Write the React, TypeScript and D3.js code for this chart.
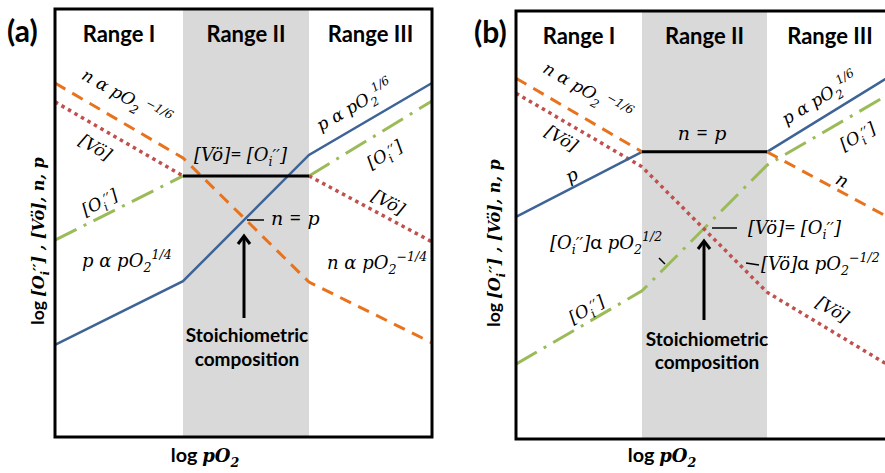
import React from 'react';
import * as d3 from 'd3';

// ---------- data ----------
const xBreaks = [0, 1, 2, 3]; // log pO2 positions: start of Range I, I|II, II|III, end of Range III
const rangeLabels = ['Range I', 'Range II', 'Range III'];

// Panel (a): log concentrations (arbitrary 0–100 units) at xBreaks
const aElectrons = [82.7, 65.2, 36.2, 22.0];
const aVacancies = [78.3, 61.0, 61.0, 45.6];
const aInterstitials = [46.0, 61.0, 61.0, 78.5];
const aHoles = [21.5, 36.4, 65.9, 82.7];
const aEqualLevel = 61.0; // [Vö] = [Oi''] in Range II

// Panel (b)
const bElectrons = [84.3, 67.1, 67.1, 51.2];
const bVacancies = [80.8, 63.6, 34.3, 16.6];
const bInterstitials = [17.5, 34.6, 64.0, 81.1];
const bHoles = [51.9, 67.1, 67.1, 85.2];
const bEqualLevel = 67.1; // n = p in Range II

// ---------- styles ----------
const SANS = "Lato, 'Open Sans', sans-serif";
const MATH = "'DejaVu Serif', 'Liberation Serif', serif";
const C = {
  blue: '#3E6497',
  orange: '#E8731C',
  red: '#C0504D',
  green: '#9BBB59',
  gray: '#D9D9D9',
};

type Seg = { t: string; dy: number; fs: number; up: boolean };
function parseRich(s: string, fs: number): Seg[] {
  const out: Seg[] = [];
  const re = /([_^~'])\{([^}]*)\}/g;
  let last = 0;
  let cur = 0;
  let m: RegExpExecArray | null;
  const push = (t: string, shift: number, size: number, up: boolean) => {
    out.push({ t, dy: shift - cur, fs: size, up });
    cur = shift;
  };
  while ((m = re.exec(s))) {
    if (m.index > last) push(s.slice(last, m.index), 0, fs, false);
    if (m[1] === '_') push(m[2], fs * 0.3, fs * 0.7, false);
    else if (m[1] === '^') push(m[2], -fs * 0.45, fs * 0.7, false);
    else if (m[1] === "'") push(m[2], -fs * 0.02, fs * 0.9, false);
    else push(m[2], 0, fs * 1.1, true);
    last = re.lastIndex;
  }
  if (last < s.length) push(s.slice(last), 0, fs, false);
  return out;
}

function Rich({ x, y, s, fs = 18, angle = 0, anchor = 'middle', weight = 'normal', center = false }:
  { x: number; y: number; s: string; fs?: number; angle?: number; anchor?: string; weight?: string; center?: boolean }) {
  const segs = parseRich(s, fs);
  return (
    <text transform={`translate(${x},${y}) rotate(${angle})`} y={center ? fs * 0.3 : 0}
      textAnchor={anchor} fontFamily={MATH} fontSize={fs} fontStyle="italic" fontWeight={weight} fill="#000">
      {segs.map((g, i) => (
        <tspan key={i} dy={g.dy} fontSize={g.fs} fontStyle={g.up ? 'normal' : undefined}
          fontFamily={g.up ? SANS : undefined}>{g.t}</tspan>
      ))}
    </text>
  );
}

type PanelCfg = {
  left: number; right: number; top: number; bottom: number;
  xPix: number[];
  electrons: number[]; vacancies: number[]; interstitials: number[]; holes: number[];
  level: number;
  hideMid: { electrons: boolean; vacancies: boolean; interstitials: boolean; holes: boolean };
};

function Panel({ cfg, children }: { cfg: PanelCfg; children?: React.ReactNode }) {
  const x = d3.scaleLinear().domain(xBreaks).range(cfg.xPix);
  const y = d3.scaleLinear().domain([0, 100]).range([cfg.bottom, cfg.top]);
  const line = d3.line<[number, number]>().x(d => x(d[0])).y(d => y(d[1]));
  const path = (vals: number[], hideMid: boolean) => {
    const pts: [number, number][] = xBreaks.map((b, i) => [b, vals[i]]);
    if (!hideMid) return line(pts) || '';
    return (line(pts.slice(0, 2)) || '') + (line(pts.slice(2)) || '');
  };
  return (
    <g>
      <rect x={x(xBreaks[1])} y={cfg.top} width={x(xBreaks[2]) - x(xBreaks[1])} height={cfg.bottom - cfg.top} fill={C.gray} />
      {rangeLabels.map((r, i) => (
        <text key={r} x={(x(xBreaks[i]) + x(xBreaks[i + 1])) / 2} y={cfg.top + 33} textAnchor="middle"
          fontFamily={SANS} fontWeight="bold" fontSize={22}>{r}</text>
      ))}
      <path d={path(cfg.interstitials, cfg.hideMid.interstitials)} fill="none" stroke={C.green} strokeWidth={3} strokeDasharray="24,8,3,8" />
      <path d={path(cfg.vacancies, cfg.hideMid.vacancies)} fill="none" stroke={C.red} strokeWidth={3.5} strokeDasharray="3.5,4" />
      <path d={path(cfg.holes, cfg.hideMid.holes)} fill="none" stroke={C.blue} strokeWidth={2.5} />
      <path d={path(cfg.electrons, cfg.hideMid.electrons)} fill="none" stroke={C.orange} strokeWidth={3} strokeDasharray="12,8" />
      <line x1={x(xBreaks[1])} x2={x(xBreaks[2])} y1={y(cfg.level)} y2={y(cfg.level)} stroke="#000" strokeWidth={3} />
      <rect x={cfg.left} y={cfg.top} width={cfg.right - cfg.left} height={cfg.bottom - cfg.top} fill="none" stroke="#000" strokeWidth={3} />
      {children}
    </g>
  );
}

function Arrow({ x, y1, y2 }: { x: number; y1: number; y2: number }) {
  return (
    <g stroke="#000" strokeWidth={3} fill="none">
      <line x1={x} x2={x} y1={y1} y2={y2 + 1} />
      <polyline points={`${x - 6},${y2 + 9} ${x},${y2 + 1} ${x + 6},${y2 + 9}`} strokeLinejoin="miter" />
    </g>
  );
}

const aCfg: PanelCfg = {
  left: 55, right: 432, top: 9, bottom: 437, xPix: [55, 183, 309, 432],
  electrons: aElectrons, vacancies: aVacancies, interstitials: aInterstitials, holes: aHoles, level: aEqualLevel,
  hideMid: { electrons: false, vacancies: true, interstitials: true, holes: false },
};
const bCfg: PanelCfg = {
  left: 516, right: 893, top: 11, bottom: 439, xPix: [516, 642, 767, 893],
  electrons: bElectrons, vacancies: bVacancies, interstitials: bInterstitials, holes: bHoles, level: bEqualLevel,
  hideMid: { electrons: true, vacancies: false, interstitials: false, holes: true },
};

const VO = '[Vö]';
const OI = "[O_{i}'{′′}]";
const YLABEL = '~{log }' + OI + ' , ' + VO + ', n, p';

export default function App() {
  return (
    <svg width={885} height={473} style={{ position: 'absolute', left: 0, top: 0, background: '#fff' }}>
      <rect width={885} height={473} fill="#fff" />
      <Panel cfg={aCfg}>
        <Rich x={126} y={98} s={'n α pO_{2}^{ −1/6}'} fs={17} angle={29} center />
        <Rich x={95} y={148} s={VO} fs={17} angle={30} center />
        <Rich x={100} y={203} s={OI} fs={17} angle={-27} center />
        <Rich x={194} y={161} s={VO + '~{= }' + OI} fs={18} anchor="start" />
        <line x1={247} x2={264} y1={220} y2={220} stroke="#000" strokeWidth={1.5} />
        <Rich x={271} y={225} s={'n ~{=} p'} fs={19} anchor="start" />
        <Rich x={82} y={267} s={'p α pO_{2}^{1/4}'} fs={18} anchor="start" />
        <Rich x={327} y={269} s={'n α pO_{2}^{−1/4}'} fs={18} anchor="start" />
        <Rich x={355} y={106} s={'p α pO_{2}^{1/6}'} fs={17} angle={-30} center />
        <Rich x={385} y={155} s={OI} fs={17} angle={-31} center />
        <Rich x={388} y={203} s={VO} fs={17} angle={28} center />
        <Arrow x={244} y1={318} y2={235} />
        <text x={247} y={342} textAnchor="middle" fontFamily={SANS} fontWeight="bold" fontSize={19}>Stoichiometric</text>
        <text x={247} y={366} textAnchor="middle" fontFamily={SANS} fontWeight="bold" fontSize={19}>composition</text>
      </Panel>
      <Panel cfg={bCfg}>
        <Rich x={587} y={92} s={'n α pO_{2}^{ −1/6}'} fs={17} angle={30} center />
        <Rich x={561} y={139} s={VO} fs={17} angle={30} center />
        <Rich x={572} y={176} s={'p'} fs={18} angle={-27} center />
        <Rich x={702} y={140} s={'n ~{=} p'} fs={19} />
        <Rich x={820} y={99} s={'p α pO_{2}^{1/6}'} fs={17} angle={-31} center />
        <Rich x={858} y={137} s={OI} fs={17} angle={-30} center />
        <Rich x={842} y={181} s={'n'} fs={18} angle={28} center />
        <Rich x={587} y={310} s={OI} fs={17} angle={-30} center />
        <Rich x={832} y={310} s={VO} fs={17} angle={30} center />
        <line x1={712} x2={737} y1={228} y2={228} stroke="#000" strokeWidth={1.5} />
        <Rich x={748} y={234} s={VO + '~{= }' + OI} fs={18} anchor="start" />
        <line x1={659} x2={665} y1={258} y2={264} stroke="#000" strokeWidth={1.5} />
        <Rich x={550} y={249} s={OI + '~{α} pO_{2}^{1/2}'} fs={18} anchor="start" />
        <line x1={746} x2={759} y1={263} y2={265} stroke="#000" strokeWidth={1.5} />
        <Rich x={761} y={270} s={VO + '~{α} pO_{2}^{−1/2}'} fs={18} anchor="start" />
        <Arrow x={704} y1={320} y2={240} />
        <text x={707} y={346} textAnchor="middle" fontFamily={SANS} fontWeight="bold" fontSize={19}>Stoichiometric</text>
        <text x={707} y={369} textAnchor="middle" fontFamily={SANS} fontWeight="bold" fontSize={19}>composition</text>
      </Panel>
      <text x={7} y={42} fontFamily={SANS} fontWeight="bold" fontSize={30}>(a)</text>
      <text x={474} y={43} fontFamily={SANS} fontWeight="bold" fontSize={30}>(b)</text>
      <Rich x={44} y={241} s={YLABEL} fs={16} angle={-90} weight="bold" />
      <Rich x={500} y={243} s={YLABEL} fs={16} angle={-90} weight="bold" />
      <Rich x={205} y={462} s={'~{log }pO_{2}'} fs={18} weight="bold" />
      <Rich x={662} y={462} s={'~{log }pO_{2}'} fs={18} weight="bold" />
    </svg>
  );
}
